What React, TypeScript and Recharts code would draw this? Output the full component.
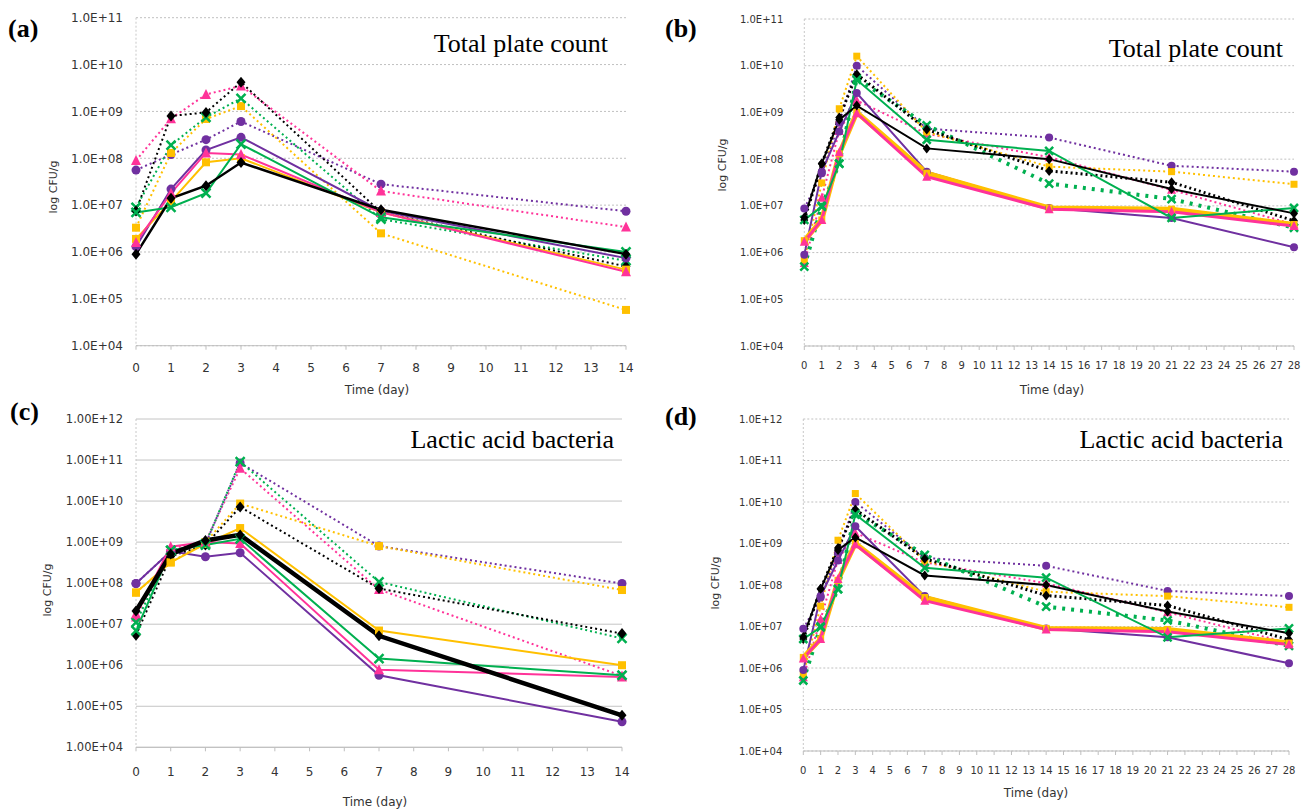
import React from 'react';
import { LineChart, Line, XAxis, YAxis, CartesianGrid } from 'recharts';

// ---------- categories / ticks ----------
const daysShort = [0, 1, 2, 3, 7, 14];
const daysLong = [0, 1, 2, 3, 7, 14, 21, 28];
const xTicksShort = [0, 1, 2, 3, 4, 5, 6, 7, 8, 9, 10, 11, 12, 13, 14];
const xTicksLong = [0, 1, 2, 3, 4, 5, 6, 7, 8, 9, 10, 11, 12, 13, 14, 15, 16, 17, 18, 19, 20, 21, 22, 23, 24, 25, 26, 27, 28];
const yTicks11 = [1e4, 1e5, 1e6, 1e7, 1e8, 1e9, 1e10, 1e11];
const yTicks12 = [1e4, 1e5, 1e6, 1e7, 1e8, 1e9, 1e10, 1e11, 1e12];

const titleTPC = 'Total plate count';
const titleLAB = 'Lactic acid bacteria';
const xLabel = 'Time (day)';
const yLabel = 'log CFU/g';

// ---------- panel (a): total plate count, 14 days ----------
const aPurpleSolid = [1.3e6, 2.2e7, 1.5e8, 2.8e8, 7.5e6, 7.4e5];
const aPinkSolid = [1.6e6, 1.8e7, 1.3e8, 1.2e8, 7.0e6, 3.8e5];
const aYellowSolid = [1.9e6, 1.2e7, 8.2e7, 1.0e8, 7.0e6, 4.2e5];
const aGreenSolid = [7.0e6, 9.0e6, 1.8e7, 2.0e8, 5.5e6, 1.0e6];
const aBlackSolid = [9.0e5, 1.4e7, 2.6e7, 8.1e7, 8.0e6, 9.0e5];
const aPurpleDot = [5.6e7, 1.2e8, 2.5e8, 6.1e8, 2.8e7, 7.4e6];
const aPinkDot = [9.0e7, 7.0e8, 2.3e9, 3.5e9, 2.0e7, 3.4e6];
const aYellowDot = [3.3e6, 1.3e8, 6.9e8, 1.3e9, 2.5e6, 5.8e4];
const aGreenDot = [9.0e6, 1.9e8, 7.5e8, 1.9e9, 5.0e6, 6.5e5];
const aBlackDot = [7.5e6, 8.0e8, 9.5e8, 4.2e9, 7.0e6, 4.9e5];

// ---------- panel (b): total plate count, 28 days ----------
const bPurpleSolid = [9.0e5, 5.4e7, 3.9e8, 2.6e9, 5.4e7, 9.0e6, 5.5e6, 1.3e6];
const bPinkSolid = [1.7e6, 5.0e6, 1.4e8, 9.6e8, 4.2e7, 8.5e6, 7.5e6, 3.7e6];
const bYellowSolid = [1.8e6, 5.0e6, 1.3e8, 1.0e9, 5.0e7, 9.0e6, 8.5e6, 4.0e6];
const bGreenSolid = [5.0e6, 9.5e6, 8.0e7, 5.0e9, 2.6e8, 1.5e8, 5.5e6, 9.0e6];
const bBlackSolid = [5.6e6, 8.1e7, 7.0e8, 1.4e9, 1.7e8, 1.0e8, 2.3e7, 6.9e6];
const bPurpleDot = [8.8e6, 5.0e7, 6.0e8, 1.0e10, 4.5e8, 2.9e8, 7.2e7, 5.4e7];
const bPinkDot = [6.0e5, 1.5e7, 4.0e8, 1.8e9, 3.5e8, 1.1e8, 2.2e7, 4.0e6];
const bYellowDot = [7.0e5, 3.1e7, 1.2e9, 1.6e10, 3.8e8, 6.9e7, 5.4e7, 2.9e7];
const bGreenDot = [5.0e5, 1.0e7, 8.0e7, 5.4e9, 5.3e8, 3.0e7, 1.4e7, 3.4e6];
const bBlackDot = [5.0e6, 8.0e7, 7.8e8, 6.6e9, 4.3e8, 5.6e7, 3.2e7, 4.8e6];

// ---------- panel (c): lactic acid bacteria, 14 days ----------
const cPurpleSolid = [9.8e7, 6.0e8, 4.4e8, 5.5e8, 5.7e5, 4.2e4];
const cPinkSolid = [1.8e7, 7.7e8, 1.0e9, 9.3e8, 7.8e5, 5.2e5];
const cYellowSolid = [5.9e7, 3.2e8, 9.0e8, 2.2e9, 7.0e6, 1.0e6];
const cGreenSolid = [7.0e6, 6.3e8, 8.5e8, 1.2e9, 1.45e6, 5.7e5];
const cBlackSolid = [2.1e7, 5.1e8, 1.1e9, 1.5e9, 5.2e6, 6.0e4];
const cPurpleDot = [9.8e7, 6.0e8, 9.0e8, 8.5e10, 8.0e8, 9.8e7];
const cPinkDot = [1.5e7, 7.0e8, 1.0e9, 6.3e10, 7.0e7, 5.5e5];
const cYellowDot = [5.9e7, 3.2e8, 1.0e9, 8.7e9, 8.0e8, 6.8e7];
const cGreenDot = [1.1e7, 6.3e8, 9.0e8, 9.1e10, 1.07e8, 4.5e6];
const cBlackDot = [5.4e6, 4.5e8, 8.5e8, 7.2e9, 7.4e7, 5.9e6];

// ---------- panel (d): lactic acid bacteria, 28 days ----------
const dPurpleSolid = [9.0e5, 5.4e7, 3.9e8, 2.6e9, 5.4e7, 9.0e6, 5.5e6, 1.3e6];
const dPinkSolid = [1.7e6, 5.0e6, 1.4e8, 9.6e8, 4.2e7, 8.5e6, 7.5e6, 3.7e6];
const dYellowSolid = [1.8e6, 5.0e6, 1.3e8, 1.0e9, 5.0e7, 9.0e6, 8.5e6, 4.0e6];
const dGreenSolid = [5.0e6, 9.5e6, 8.0e7, 5.0e9, 2.6e8, 1.5e8, 5.5e6, 9.0e6];
const dBlackSolid = [5.6e6, 8.1e7, 7.0e8, 1.4e9, 1.7e8, 1.0e8, 2.3e7, 6.9e6];
const dPurpleDot = [8.8e6, 5.0e7, 6.0e8, 1.0e10, 4.5e8, 2.9e8, 7.2e7, 5.4e7];
const dPinkDot = [6.0e5, 1.5e7, 4.0e8, 1.8e9, 3.5e8, 1.1e8, 2.2e7, 4.0e6];
const dYellowDot = [7.0e5, 3.1e7, 1.2e9, 1.6e10, 3.8e8, 6.9e7, 5.4e7, 2.9e7];
const dGreenDot = [5.0e5, 1.0e7, 8.0e7, 5.4e9, 5.3e8, 3.0e7, 1.4e7, 3.4e6];
const dBlackDot = [5.0e6, 8.0e7, 7.8e8, 6.6e9, 4.3e8, 5.6e7, 3.2e7, 4.8e6];

// ---------- styling ----------
const PURPLE = '#7030A0';
const PINK = '#FF3399';
const YELLOW = '#FFC000';
const GREEN = '#00B050';
const BLACK = '#000000';

type Shape = 'circle' | 'triangle' | 'square' | 'x' | 'diamond';

interface SeriesDef {
  key: string;
  values: number[];
  color: string;
  shape: Shape;
  width: number;
  dash?: string;
  size: number;
}

const Marker = ({ cx, cy, shape, color, size }: { cx: number; cy: number; shape: Shape; color: string; size: number }) => {
  const h = size / 2;
  if (shape === 'circle') return <circle cx={cx} cy={cy} r={h} fill={color} />;
  if (shape === 'square') return <rect x={cx - h} y={cy - h} width={size} height={size} fill={color} />;
  if (shape === 'triangle')
    return <polygon points={`${cx},${cy - h - 1} ${cx + h + 0.5},${cy + h} ${cx - h - 0.5},${cy + h}`} fill={color} />;
  if (shape === 'diamond')
    return <polygon points={`${cx},${cy - h - 1} ${cx + h},${cy} ${cx},${cy + h + 1} ${cx - h},${cy}`} fill={color} />;
  return (
    <path
      d={`M${cx - h},${cy - h}L${cx + h},${cy + h}M${cx + h},${cy - h}L${cx - h},${cy + h}`}
      stroke={color}
      strokeWidth={2.5}
      fill="none"
    />
  );
};

const makeDot = (s: SeriesDef) => (props: any) => {
  const { cx, cy, index } = props;
  if (cx == null || cy == null || isNaN(cx) || isNaN(cy)) return <g key={`${s.key}-${index}`} />;
  return <Marker key={`${s.key}-${index}`} cx={cx} cy={cy} shape={s.shape} color={s.color} size={s.size} />;
};

interface PanelProps {
  left: number;
  top: number;
  width: number;
  height: number;
  margin: { top: number; right: number; bottom: number; left: number };
  yAxisWidth: number;
  days: number[];
  series: SeriesDef[];
  xTicks: number[];
  xMax: number;
  yTicks: number[];
  yMax: number;
  yFmt: (v: number) => string;
  yFont: number;
  yTickMargin: number;
  xFont: number;
  xTickMargin: number;
  gridDash?: string;
  gridColor: string;
}

const Panel = (p: PanelProps) => {
  const data = p.days.map((d, i) => {
    const row: any = { day: d };
    p.series.forEach((s) => {
      row[s.key] = s.values[i];
    });
    return row;
  });
  return (
    <div style={{ position: 'absolute', left: p.left, top: p.top, width: p.width, height: p.height }}>
      <LineChart width={p.width} height={p.height} data={data} margin={p.margin}>
        <CartesianGrid vertical={false} stroke={p.gridColor} strokeDasharray={p.gridDash} />
        <XAxis
          dataKey="day"
          type="number"
          domain={[0, p.xMax]}
          ticks={p.xTicks}
          interval={0}
          height={30}
          tickSize={4}
          tickMargin={p.xTickMargin}
          axisLine={{ stroke: '#bfbfbf' }}
          tickLine={{ stroke: '#bfbfbf' }}
          tick={{ fontSize: p.xFont, fill: '#333', fontFamily: 'DejaVu Sans' }}
        />
        <YAxis
          scale="log"
          domain={[1e4, p.yMax]}
          ticks={p.yTicks}
          interval={0}
          allowDataOverflow
          width={p.yAxisWidth}
          tickSize={0}
          tickMargin={p.yTickMargin}
          tickFormatter={p.yFmt}
          axisLine={{ stroke: '#c8c8c8', strokeDasharray: '2 2' }}
          tickLine={false}
          tick={{ fontSize: p.yFont, fill: '#333', fontFamily: 'DejaVu Sans' }}
        />
        {p.series.map((s) => (
          <Line
            key={s.key}
            dataKey={s.key}
            type="linear"
            stroke={s.color}
            strokeWidth={s.width}
            strokeDasharray={s.dash}
            dot={makeDot(s)}
            activeDot={false}
            isAnimationActive={false}
          />
        ))}
      </LineChart>
    </div>
  );
};

const exp = (v: number) => String(Math.round(Math.log10(v))).padStart(2, '0');
const fmt1 = (v: number) => `1.0E+${exp(v)}`;
const fmt2 = (v: number) => `1.00E+${exp(v)}`;

const buildSeries = (
  vals: { purpleS: number[]; pinkS: number[]; yellowS: number[]; greenS: number[]; blackS: number[]; purpleD: number[]; pinkD: number[]; yellowD: number[]; greenD: number[]; blackD: number[] },
  opts: { size: number; thickPinkYellow: boolean; blackW: number; heavyDots: boolean }
): SeriesDef[] => [
  { key: 'purpleD', values: vals.purpleD, color: PURPLE, shape: 'circle', width: 2, dash: '2 3', size: opts.size },
  { key: 'pinkD', values: vals.pinkD, color: PINK, shape: 'triangle', width: 2, dash: '2 3', size: opts.size },
  { key: 'yellowD', values: vals.yellowD, color: YELLOW, shape: 'square', width: 2, dash: '2 3', size: opts.size - 1 },
  { key: 'greenD', values: vals.greenD, color: GREEN, shape: 'x', width: opts.heavyDots ? 4 : 2, dash: opts.heavyDots ? '3 6' : '2 3', size: opts.size },
  { key: 'blackD', values: vals.blackD, color: BLACK, shape: 'diamond', width: opts.heavyDots ? 3 : 2, dash: '2 3', size: opts.size },
  { key: 'purpleS', values: vals.purpleS, color: PURPLE, shape: 'circle', width: 2, size: opts.size },
  { key: 'yellowS', values: vals.yellowS, color: YELLOW, shape: 'square', width: opts.thickPinkYellow ? 5 : 2, size: opts.size - 1 },
  { key: 'pinkS', values: vals.pinkS, color: PINK, shape: 'triangle', width: opts.thickPinkYellow ? 3 : 2, size: opts.size },
  { key: 'greenS', values: vals.greenS, color: GREEN, shape: 'x', width: 2, size: opts.size },
  { key: 'blackS', values: vals.blackS, color: BLACK, shape: 'diamond', width: opts.blackW, size: opts.size },
];

const seriesA = buildSeries(
  { purpleS: aPurpleSolid, pinkS: aPinkSolid, yellowS: aYellowSolid, greenS: aGreenSolid, blackS: aBlackSolid, purpleD: aPurpleDot, pinkD: aPinkDot, yellowD: aYellowDot, greenD: aGreenDot, blackD: aBlackDot },
  { size: 9, thickPinkYellow: false, blackW: 2.5, heavyDots: false }
);
const seriesB = buildSeries(
  { purpleS: bPurpleSolid, pinkS: bPinkSolid, yellowS: bYellowSolid, greenS: bGreenSolid, blackS: bBlackSolid, purpleD: bPurpleDot, pinkD: bPinkDot, yellowD: bYellowDot, greenD: bGreenDot, blackD: bBlackDot },
  { size: 8, thickPinkYellow: true, blackW: 2, heavyDots: true }
);
const seriesC = buildSeries(
  { purpleS: cPurpleSolid, pinkS: cPinkSolid, yellowS: cYellowSolid, greenS: cGreenSolid, blackS: cBlackSolid, purpleD: cPurpleDot, pinkD: cPinkDot, yellowD: cYellowDot, greenD: cGreenDot, blackD: cBlackDot },
  { size: 9, thickPinkYellow: false, blackW: 4.5, heavyDots: false }
);
const seriesD = buildSeries(
  { purpleS: dPurpleSolid, pinkS: dPinkSolid, yellowS: dYellowSolid, greenS: dGreenSolid, blackS: dBlackSolid, purpleD: dPurpleDot, pinkD: dPinkDot, yellowD: dYellowDot, greenD: dGreenDot, blackD: dBlackDot },
  { size: 8, thickPinkYellow: true, blackW: 2, heavyDots: true }
);

const serif = "'Liberation Serif', 'Times New Roman', serif";
const sans = "'DejaVu Sans', sans-serif";

export default function App() {
  return (
    <div style={{ position: 'absolute', left: 0, top: 0, width: 1311, height: 810, background: '#fff', overflow: 'hidden' }}>
      <Panel
        left={0}
        top={0}
        width={660}
        height={405}
        margin={{ top: 17.7, right: 34, bottom: 29.3, left: 66 }}
        yAxisWidth={70}
        days={daysShort}
        series={seriesA}
        xTicks={xTicksShort}
        xMax={14}
        yTicks={yTicks11}
        yMax={1e11}
        yFmt={fmt1}
        yFont={12}
        yTickMargin={13}
        xFont={12}
        xTickMargin={14}
        gridDash="2 2"
        gridColor="#c0c0c0"
      />
      <Panel
        left={660}
        top={0}
        width={651}
        height={405}
        margin={{ top: 19, right: 17, bottom: 29, left: 74.3 }}
        yAxisWidth={70}
        days={daysLong}
        series={seriesB}
        xTicks={xTicksLong}
        xMax={28}
        yTicks={yTicks11}
        yMax={1e11}
        yFmt={fmt1}
        yFont={10}
        yTickMargin={21}
        xFont={10}
        xTickMargin={12}
        gridDash="2 2"
        gridColor="#c0c0c0"
      />
      <Panel
        left={0}
        top={405}
        width={660}
        height={405}
        margin={{ top: 14, right: 38, bottom: 32.7, left: 66 }}
        yAxisWidth={70}
        days={daysShort}
        series={seriesC}
        xTicks={xTicksShort}
        xMax={14}
        yTicks={yTicks12}
        yMax={1e12}
        yFmt={fmt2}
        yFont={11.5}
        yTickMargin={13}
        xFont={12}
        xTickMargin={16}
        gridColor="#c4c4c4"
      />
      <Panel
        left={660}
        top={405}
        width={651}
        height={405}
        margin={{ top: 14, right: 22, bottom: 29, left: 73.3 }}
        yAxisWidth={70}
        days={daysLong}
        series={seriesD}
        xTicks={xTicksLong}
        xMax={28}
        yTicks={yTicks12}
        yMax={1e12}
        yFmt={fmt1}
        yFont={10}
        yTickMargin={21}
        xFont={10}
        xTickMargin={11.4}
        gridDash="2 2"
        gridColor="#c0c0c0"
      />
      <svg width={1311} height={810} style={{ position: 'absolute', left: 0, top: 0, pointerEvents: 'none' }}>
        <g fontFamily={serif} fontWeight="bold" fontSize={26} fill="#000">
          <text x={8} y={37}>(a)</text>
          <text x={665} y={37}>(b)</text>
          <text x={10} y={420}>(c)</text>
          <text x={665} y={425}>(d)</text>
        </g>
        <g fontFamily={serif} fontSize={26} fill="#000" textAnchor="end">
          <text x={608} y={52}>{titleTPC}</text>
          <text x={1283} y={57}>{titleTPC}</text>
          <text x={614} y={448}>{titleLAB}</text>
          <text x={1283} y={448}>{titleLAB}</text>
        </g>
        <g fontFamily={sans} fontSize={12} fill="#333" textAnchor="middle">
          <text x={377} y={394}>{xLabel}</text>
          <text x={1052} y={394}>{xLabel}</text>
          <text x={375} y={806}>{xLabel}</text>
          <text x={1036} y={797}>{xLabel}</text>
        </g>
        <g fontFamily={sans} fontSize={11} fill="#333" textAnchor="middle">
          <text transform="translate(57,187) rotate(-90)">{yLabel}</text>
          <text transform="translate(726,165) rotate(-90)">{yLabel}</text>
          <text transform="translate(51,590) rotate(-90)">{yLabel}</text>
          <text transform="translate(719,583) rotate(-90)">{yLabel}</text>
        </g>
      </svg>
    </div>
  );
}
